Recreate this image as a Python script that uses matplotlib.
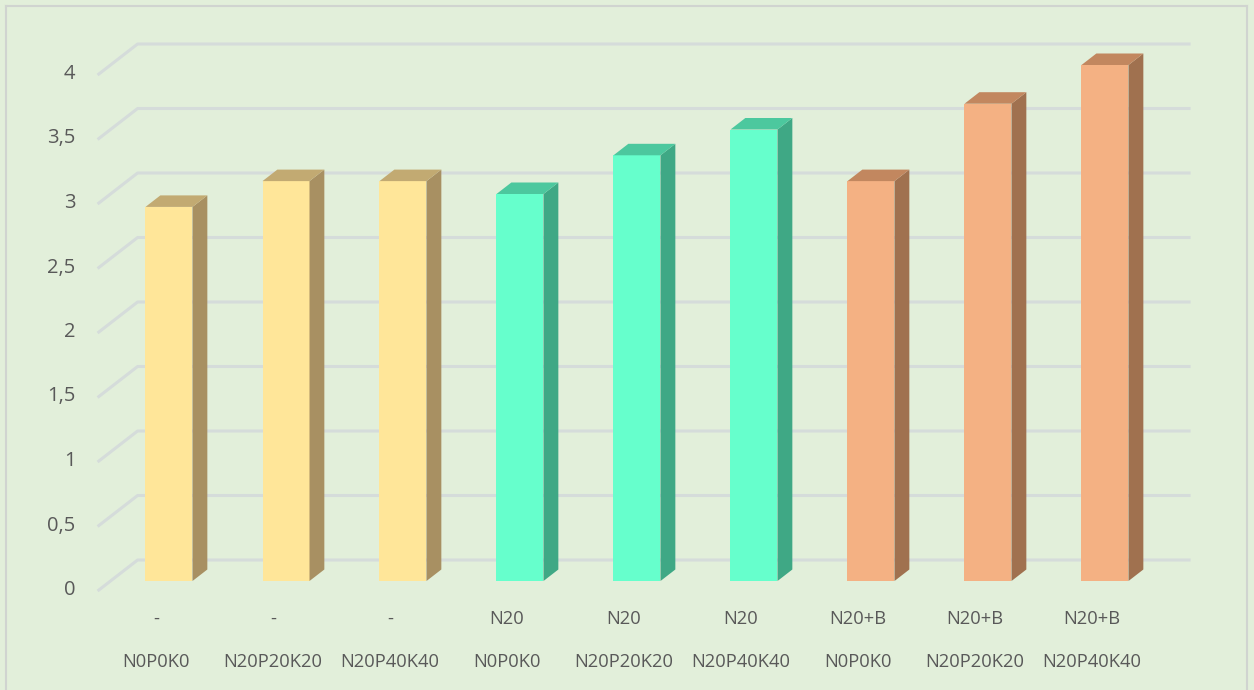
import matplotlib
matplotlib.use("Agg")
import matplotlib.pyplot as plt
from matplotlib.patches import Polygon, Rectangle
from matplotlib.transforms import offset_copy

# treatment labels (two rows) and measured values
row1 = ["-", "-", "-", "N20", "N20", "N20", "N20+B", "N20+B", "N20+B"]
row2 = ["N0P0K0", "N20P20K20", "N20P40K40"] * 3
values = [2.9, 3.1, 3.1, 3.0, 3.3, 3.5, 3.1, 3.7, 4.0]
yticks = [0, 0.5, 1, 1.5, 2, 2.5, 3, 3.5, 4]

# front / side / top colours per group of three bars
front_cols = ["#FFE699"] * 3 + ["#66FFCC"] * 3 + ["#F4B183"] * 3
side_cols = ["#A89062"] * 3 + ["#3FA885"] * 3 + ["#A0714F"] * 3
top_cols = ["#C2AA72"] * 3 + ["#4CC89E"] * 3 + ["#C2875F"] * 3

BG = "#E2EFDA"
GRID = "#D5DCDA"
TXT = "#595959"

W, H = 1254, 690
fig = plt.figure(figsize=(W / 100, H / 100), dpi=100)
fig.patch.set_facecolor(BG)
ax = fig.add_axes([0, 0, 1, 1])
ax.set_facecolor(BG)
for s in ax.spines.values():
    s.set_visible(False)
ax.set_xticks([])
ax.set_yticks([])

# pixel scale of one category / one unit of value
PX_CAT = 117.0
PX_VAL = 129.0
x0_px, y0_px = 169.0, 581.0
ax.set_xlim(-x0_px / PX_CAT, (W - x0_px) / PX_CAT)
ax.set_ylim(-(H - y0_px) / PX_VAL, y0_px / PX_VAL)

# depth of floor (front -> back) in data units, bars sit between t0 and t1
DX = 40.0 / PX_CAT
DY = 31.0 / PX_VAL
t0, t1 = 10.0 / 31.0, 21.5 / 31.0
half_w = 23.5 / PX_CAT


def proj(x, v, t):
    return (x + (t - t0) * DX, v + (t - t0) * DY)


n = len(values)
xl, xr = -0.5, n - 0.5

# perspective gridlines: diagonal on the left wall, horizontal on the back wall
for v in yticks:
    pts = [proj(xl, v, 0), proj(xl, v, 1), proj(xr, v, 1)]
    ax.plot([p[0] for p in pts], [p[1] for p in pts], color=GRID, lw=2.2,
            solid_capstyle="butt", zorder=1)

# bars drawn as front face + side face + top face
for i, v in enumerate(values):
    a, b = i - half_w, i + half_w
    ax.add_patch(Rectangle((a, 0), b - a, v, facecolor=front_cols[i],
                           edgecolor="none", zorder=3))
    side = [proj(b, 0, t0), proj(b, 0, t1), proj(b, v, t1), proj(b, v, t0)]
    ax.add_patch(Polygon(side, closed=True, facecolor=side_cols[i],
                         edgecolor="none", zorder=3))
    top = [proj(a, v, t0), proj(b, v, t0), proj(b, v, t1), proj(a, v, t1)]
    ax.add_patch(Polygon(top, closed=True, facecolor=top_cols[i],
                         edgecolor="none", zorder=3))

font = "Open Sans"

# value axis labels
for v in yticks:
    lab = ("%g" % v).replace(".", ",")
    px, py = proj(xl, v, 0)
    tr = offset_copy(ax.transData, fig=fig, x=-22, y=1, units="dots")
    ax.text(px, py, lab, transform=tr, ha="right", va="center",
            fontsize=14.5, color=TXT, family=font)

# category labels, two rows
for i in range(n):
    px, py = proj(i, 0, 0)
    tr1 = offset_copy(ax.transData, fig=fig, x=0, y=-28, units="dots")
    tr2 = offset_copy(ax.transData, fig=fig, x=0, y=-71, units="dots")
    ax.text(px, py, row1[i], transform=tr1, ha="center", va="center",
            fontsize=13.2, color=TXT, family=font)
    ax.text(px, py, row2[i], transform=tr2, ha="center", va="center",
            fontsize=13.2, color=TXT, family=font)

# thin chart border
fig.add_artist(plt.Line2D([6 / W, 6 / W], [0, 1 - 6 / H], color="#D0D4D0",
                          lw=1.5, transform=fig.transFigure))
fig.add_artist(plt.Line2D([6 / W, 1247 / W], [1 - 6 / H, 1 - 6 / H],
                          color="#D0D4D0", lw=1.5, transform=fig.transFigure))
fig.add_artist(plt.Line2D([1247 / W, 1247 / W], [0, 1 - 6 / H], color="#D0D4D0",
                          lw=1.5, transform=fig.transFigure))

fig.savefig("out.png", dpi=100, facecolor=BG)
